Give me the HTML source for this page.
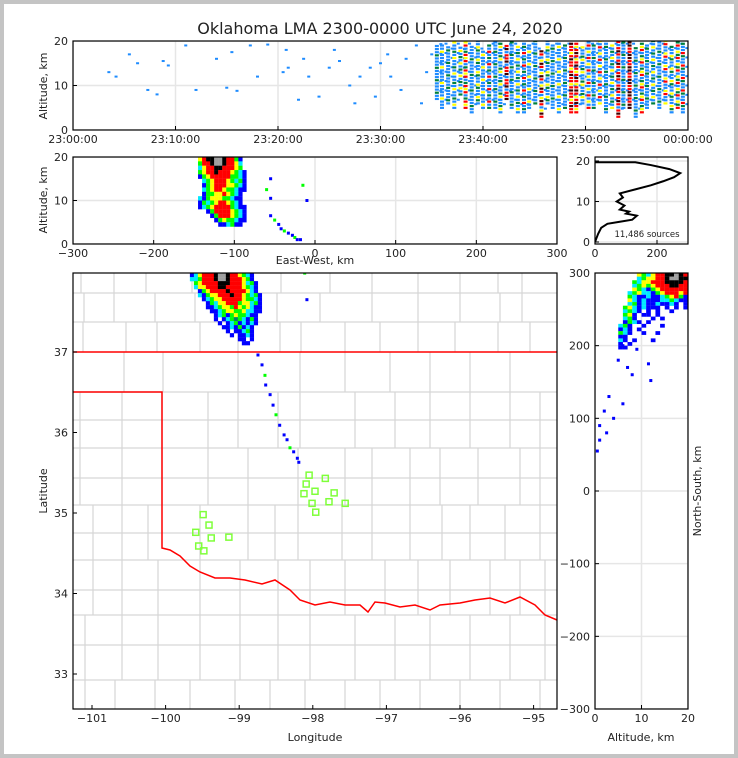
<!DOCTYPE html>
<html><head><meta charset="utf-8"><style>
html,body{margin:0;padding:0;background:#fff}
svg{display:block}
text{font-family:"DejaVu Sans","Liberation Sans",sans-serif;fill:#222}
</style></head><body>
<svg id="fig" width="738" height="758" viewBox="0 0 738 758" xmlns="http://www.w3.org/2000/svg">
<rect x="0" y="0" width="738" height="758" fill="#c4c4c4"/>
<rect x="4" y="4" width="730" height="750" fill="#fff"/>
<text x="380" y="34" font-size="16" text-anchor="middle">Oklahoma LMA 2300-0000 UTC June 24, 2020</text>
<defs>
<clipPath id="cT"><rect x="73" y="41" width="615" height="89"/></clipPath>
<clipPath id="cE"><rect x="73" y="157" width="484" height="87"/></clipPath>
<clipPath id="cH"><rect x="595" y="157" width="93" height="87"/></clipPath>
<clipPath id="cM"><rect x="73" y="273" width="484" height="436"/></clipPath>
<clipPath id="cN"><rect x="595" y="273" width="93" height="436"/></clipPath>
</defs>
<g id="gT" clip-path="url(#cT)"></g>
<g id="gE" clip-path="url(#cE)"></g>
<g id="gH" clip-path="url(#cH)"></g>
<g id="gM" clip-path="url(#cM)"></g>
<g id="gN" clip-path="url(#cN)"></g>
<g id="gA"></g>
</svg>
<script>
// ---------- DATA ----------
const timeTicks = [0,10,20,30,40,50,60];
const timeTickLabels = ["23:00:00","23:10:00","23:20:00","23:30:00","23:40:00","23:50:00","00:00:00"];
const altTicks = [0,10,20];
const ewTicks = [-300,-200,-100,0,100,200,300];
const lonTicks = [-101,-100,-99,-98,-97,-96,-95];
const latTicks = [33,34,35,36,37];
const nsTicks = [-300,-200,-100,0,100,200,300];
const histTicks = [0,200];

const sparseT = [3.5,4.2,5.5,6.3,7.3,8.8,8.2,9.3,11,12,14,15,15.5,16,17.3,18,19,20.5,20.8,21,22,22.5,23,24,25,25.5,26,27,27.5,28,29,29.5,30,30.7,31,32,32.5,33.5,34,34.5,35];
const sparseA = [13,12,17,15,9,15.5,8,14.5,19,9,16,9.5,17.5,8.8,19,12,19.2,13,18,14,6.8,16,12,7.5,14,18,15.5,10,6,12,14,7.5,15,17,12,9,16,19,6,13,17];
const streakT = [35.5,36.0,36.6,37.2,37.8,38.3,38.9,39.5,40.0,40.6,41.2,41.7,42.3,42.8,43.4,44.0,44.5,45.1,45.7,46.3,46.8,47.4,48.0,48.6,49.1,49.7,50.3,50.8,51.4,52.0,52.6,53.2,53.7,54.3,54.9,55.5,56.0,56.6,57.2,57.8,58.4,59.0,59.5];
const streakLo = [7,5,6,5,8,5,4,6,5,5,5,4,7,5,4,4,5,6,3,6,5,4,5,4,4,6,5,5,6,4,5,3,5,5,3,4,5,6,5,6,4,5,4];
const streakHi = [19,19,19,20,19,20,19,20,18,19,20,20,19,20,19,20,19,20,18,20,19,20,19,20,20,19,20,19,20,20,19,20,20,20,19,20,19,20,20,20,19,20,20];
const streakC = ["bbgb","bcbyb","bgbb","bybgb","gbyb","ryrgb","bbgbc","bgyb","bybb","gbrb","bbgb","bygb","krrb","bgbb","bybg","bgbr","bbyb","gbbb","rkyb","bgyb","bbbg","bybb","gbbb","rrkry","ryrk","bbyg","rbyb","gbbb","ybrb","bgbb","ybgb","rkrb","bgbb","kkrr","bbgb","rygb","bbbg","gbyb","bbgb","ybbr","bgyb","rgyb","bbgr"];

const ewRowAlt = [20,19,18,17,16,15,14,13,12,11,10,9,8,7,6,5];
const ewRowC = ["yrkkwwkrrgb","grrkwwkrryc","cyrrkkrrryg","gyrrkrrrygcb","bgyrrrrrggcb",".cgyrrrygcgb",".bgyrrryygcb",".cgyrryggcbb",".bggyyrygcb","cbgyyyggcbb","bgcgyrrygcb","bcgyrrrrgcbb","..bgrrrrygcb","...bgrrrygcb","....bgyggcbb",".....bbcgbb"];
const ewX0 = -145, ewStep = 5;
const ewTailX = [-55,-50,-45,-42,-38,-33,-28,-25,-22,-18,-15,-10,-55,-60,-55];
const ewTailA = [6.5,5.5,4.5,3.5,3,2.5,2,1.5,1,1,13.5,10,10.5,12.5,15];

const histCount = [0,5,10,20,40,80,120,135,100,110,80,95,70,90,80,130,180,220,255,275,240,180,130];
const histAlt = [0,1,2,3.5,4.5,5,5.5,6.5,7,7.5,8,9,10,11,12,13,14,15,16,17,18,19,19.7];

const mapRowC = ["bcyrrrkwwkrrygcb","ccgrrrkwwkrrrygb",".gyrrrrkkkrrrycgb",".cyyrrrkkrrrrygcb","..bgyrrrrkrrrrycb","..cbgyyrrrkrrygcgb","...bcgyyrrrrryggcb","....bgcyyrrrgyycgb","....bbcgyygrygycbb",".....bbcgyyggyccbb","......bcgbgyggcbb","......b.bcgdgcbgb",".......b.bcgbcbcb","........bbcbgbcb",".........b.bbcgb","..........b.bbcb","............bb.b",".............bb"];
const mapLon0 = -99.67, mapLat0 = 37.98, mapLonStep = 0.0543, mapLatStep = 0.0497;
const tailLon = [-98.745,-98.69,-98.65,-98.64,-98.58,-98.54,-98.50,-98.45,-98.39,-98.35,-98.31,-98.26,-98.21,-98.19,-98.11,-98.08];
const tailLat = [36.963,36.84,36.71,36.59,36.47,36.34,36.22,36.09,35.97,35.91,35.81,35.76,35.68,35.63,37.98,37.65];
const stationLon = [-98.05,-97.83,-98.09,-97.97,-98.12,-97.71,-98.01,-97.78,-97.56,-97.96,-99.49,-99.41,-99.59,-99.38,-99.14,-99.55,-99.48];
const stationLat = [35.47,35.43,35.36,35.27,35.24,35.25,35.12,35.14,35.12,35.01,34.98,34.85,34.76,34.69,34.70,34.59,34.53];

const nsRowY = [300,295,290,285,280,275,270,265,260,255,250,245,240,235,230,225,220,215,210,205,200];
const nsRowC = ["....ygcyrrkkwkr","....cgyyrrkwwkk","...gcyyrrrkkkkr","...cgygyrrrkkrr","...ygcbgyrrrrrr","..cgyccbgyrrryr","..gcbbcbbcgyrgb","..ycbcbbbccgcbb","..cgbcbbcbbcb.b",".gycbcbbb.b.b.b",".cgcb.b.b..b...",".gyb.bb.b......",".cgb...b.b.....",".bgcb.b........","cgb..b...b.....","bcb.b..........","gcb..b..b......","bb.............","cb.b...b.......","b.b............","bb............."];
const nsA0 = 5;
const nsPtA = [7,8,11.5,9,12,3,2,1,0.5,1,4,6,2.5,5,6];
const nsPtY = [170,160,175,195,152,130,110,90,55,70,100,120,80,180,200];

// ---------- SCALES ----------
const tx = m => 73 + m*(615/60), ty = a => 130 - a*(89/20);
const ex = k => 73 + (k+300)*(484/600), ey = a => 244 - a*(87/20);
const hx = c => 595 + c*0.31, hy = a => 242 - a*4.05;
const mx = lon => 92 + (lon+101)*73.6, my = lat => 352 - (lat-37)*80.5;
const nx = a => 595 + a*4.65, ny = k => 491 - k*0.7267;

const NS = "http://www.w3.org/2000/svg";
function mk(tag, attrs, parent){const e=document.createElementNS(NS,tag);for(const k in attrs)e.setAttribute(k,attrs[k]);parent.appendChild(e);return e;}
const COL = {b:"#0000ff",c:"#00e8ff",g:"#00ff00",d:"#00806a",y:"#ffff00",r:"#ff0000",m:"#ff1493",k:"#000000",w:"#a0a0a0"};
const TCOL = {b:"#1e8cff",c:"#1e8cff",g:"#00803c",y:"#ffff00",r:"#ff0000",k:"#400000",m:"#ff3080"};
const gT=document.getElementById("gT"),gE=document.getElementById("gE"),gH=document.getElementById("gH"),gM=document.getElementById("gM"),gN=document.getElementById("gN"),gA=document.getElementById("gA");

function grid(g, x0,x1,y0,y1, xs, ys){
  xs.forEach(x=>{const l=mk("line",{x1:x,x2:x,y1:y0,y2:y1,stroke:"#e6e6e6","stroke-width":1.5},g);
  
  });
  ys.forEach(y=>{const l=mk("line",{x1:x0,x2:x1,y1:y,y2:y,stroke:"#e6e6e6","stroke-width":1.5},g);
  
  });
}

// ----- time panel -----
grid(gT,73,688,41,130,timeTicks.map(tx),altTicks.map(ty));
for(let i=0;i<sparseT.length;i++){
  const r=mk("rect",{x:tx(sparseT[i])-1.5,y:ty(sparseA[i])-1,width:3,height:2,fill:TCOL.b},gT);
  
  
}
for(let i=0;i<streakT.length;i++){
  const pat=streakC[i];let n=0;
  for(let a=streakLo[i];a<=streakHi[i];a+=0.7){
    const c=pat[n%pat.length];n++;
    const r=mk("rect",{x:tx(streakT[i])-2,y:ty(a)-1,width:4,height:2.2,fill:TCOL[c]},gT);
    
    
    if(n%3===0){const r2=mk("rect",{x:tx(streakT[i])+2.5,y:ty(a+0.4)-1,width:3,height:2,fill:TCOL.b},gT);
      
      }
  }
}

// ----- EW panel -----
grid(gE,73,557,157,244,ewTicks.map(ex),altTicks.map(ey));
ewRowAlt.forEach((a,i)=>{[...ewRowC[i]].forEach((c,j)=>{if(c==='.')return;
  const r=mk("rect",{x:ex(ewX0+j*ewStep),y:ey(a),width:4.2,height:4.5,fill:COL[c]},gE);
  
  });});
for(let i=0;i<ewTailX.length;i++){
  const r=mk("rect",{x:ex(ewTailX[i])-1.5,y:ey(ewTailA[i])-1.5,width:3,height:3,fill:i%3===1?COL.g:COL.b},gE);
  
  
}

// ----- histogram -----
grid(gH,595,688,157,244,histTicks.map(hx),altTicks.map(hy));
const hp=mk("polyline",{points:histCount.map((c,i)=>hx(c)+","+hy(histAlt[i])).join(" ")+" "+hx(0)+","+hy(19.7),fill:"none",stroke:"#000000","stroke-width":2,style:"stroke:#000000;fill:none"},gH);


const st=mk("text",{x:647,y:237,"font-size":8.5,"text-anchor":"middle"},gA);st.textContent="11,486 sources";



// ----- map -----
const countyH=[293,322,392,420,448,478,505,533,560,590,615,645,680];
const countyBands=[[273,293,[81,114,146,192,238,281,330,372,418,460,498,522]],[293,322,[84,114,155,195,238,277,320,372,418,460,500,522]],[322,352,[83,126,157,200,238,280,301,345,380,418,455,498,530]],[352,392,[124,163,238,300,345,390,430,470,510]],[392,448,[80,122,162,208,238,278,300,355,395,430,470,510,540]],[448,505,[80,122,162,208,248,298,345,372,410,440,478,520,540]],[505,560,[93,122,148,200,248,275,298,342,372,410,442,470,505,540]],[560,615,[93,122,158,200,240,278,310,345,385,418,450,490,520,545]],[615,680,[85,122,158,200,240,278,310,355,395,430,470,510,545]],[680,709,[85,115,155,190,235,270,305,345,380,420,460,500,540]]];
countyH.forEach(y=>{const l=mk("line",{x1:73,x2:557,y1:y,y2:y,stroke:"#d6d6d6","stroke-width":1.2},gM);
  
  });
countyBands.forEach(b=>b[2].forEach(x=>{const l=mk("line",{x1:x,x2:x,y1:b[0],y2:b[1],stroke:"#d6d6d6","stroke-width":1.2},gM);
  
  }));
const border=mk("path",{d:"M73,352H557M73,392H162V548L170,550 180,556 190,566 200,572 215,578 230,578 245,580 262,584 275,580 290,590 300,600 315,605 330,602 345,605 360,605 368,612 375,602 385,603 400,607 415,605 430,610 440,605 460,603 475,600 490,598 505,603 520,597 535,605 545,615 557,620",fill:"none",stroke:"#ff0000","stroke-width":1.5},gM);


mapRowC.forEach((row,i)=>{[...row].forEach((c,j)=>{if(c==='.')return;
  const r=mk("rect",{x:mx(mapLon0+j*mapLonStep),y:my(mapLat0-i*mapLatStep),width:4.2,height:4.2,fill:COL[c]},gM);
  
  });});
for(let i=0;i<tailLon.length;i++){
  const r=mk("rect",{x:mx(tailLon[i])-1.5,y:my(tailLat[i])-1.5,width:3,height:3,fill:i%4===2?COL.g:COL.b},gM);
  
  
}
for(let i=0;i<stationLon.length;i++){
  const r=mk("rect",{x:mx(stationLon[i])-3,y:my(stationLat[i])-3,width:6,height:6,fill:"none",stroke:"#7fff3a","stroke-width":1.5},gM);
  
  
}

// ----- NS panel -----
grid(gN,595,688,273,709,altTicks.map(nx),nsTicks.map(ny));
nsRowY.forEach((k,i)=>{[...nsRowC[i]].forEach((c,j)=>{if(c==='.')return;
  const r=mk("rect",{x:nx(nsA0+j),y:ny(k),width:4.7,height:3.8,fill:COL[c]},gN);
  
  });});
for(let i=0;i<nsPtA.length;i++){
  const r=mk("rect",{x:nx(nsPtA[i])-1.5,y:ny(nsPtY[i])-1.5,width:3,height:3,fill:COL.b},gN);
  
  
}

// ----- axes -----
function frame(x,y,w,h,name){const r=mk("rect",{x:x,y:y,width:w,height:h,fill:"none",stroke:"#000","stroke-width":1.2},gA);
  
  }
function lab(x,y,s,anchor,size,name,rot){const t=mk("text",{x:x,y:y,"font-size":size||11,"text-anchor":anchor||"middle"},gA);
  if(rot)t.setAttribute("transform","rotate(-90 "+x+" "+y+")");t.textContent=s;
  
  return t;}
function tk(x1,y1,x2,y2){const l=mk("line",{x1:x1,y1:y1,x2:x2,y2:y2,stroke:"#000","stroke-width":1},gA);
  
  }
frame(73,41,615,89,"time-axes-frame");
frame(73,157,484,87,"ew-axes-frame");
frame(595,157,93,87,"hist-axes-frame");
frame(73,273,484,436,"map-axes-frame");
frame(595,273,93,436,"ns-axes-frame");
timeTicks.forEach((m,i)=>{tk(tx(m),130,tx(m),126);lab(tx(m),143,timeTickLabels[i],"middle",11,"x-tick-label");});
altTicks.forEach(a=>{tk(73,ty(a),77,ty(a));lab(68,ty(a)+4,String(a),"end",11,"y-tick-label");
  tk(73,ey(a),77,ey(a));lab(68,ey(a)+4,String(a),"end",11,"y-tick-label");
  tk(595,hy(a),599,hy(a));lab(590,hy(a)+4,String(a),"end",11,"y-tick-label");
  tk(nx(a),709,nx(a),705);lab(nx(a),722,String(a),"middle",11,"x-tick-label");});
ewTicks.forEach(k=>{tk(ex(k),244,ex(k),240);lab(ex(k),257,String(k).replace('-','\u2212'),"middle",11,"x-tick-label");});
histTicks.forEach(c=>{tk(hx(c),244,hx(c),240);lab(hx(c),257,String(c),"middle",11,"x-tick-label");});
lonTicks.forEach(l=>{tk(mx(l),709,mx(l),705);lab(mx(l),722,String(l).replace('-','\u2212'),"middle",11,"x-tick-label");});
latTicks.forEach(l=>{tk(73,my(l),77,my(l));lab(68,my(l)+4,String(l),"end",11,"y-tick-label");});
nsTicks.forEach(k=>{tk(595,ny(k),599,ny(k));lab(590,ny(k)+4,String(k).replace('-','\u2212'),"end",11,"y-tick-label");});
lab(47,86,"Altitude, km","middle",11,"time-y-axis-title",true);
lab(47,200,"Altitude, km","middle",11,"ew-y-axis-title",true);
lab(315,264,"East-West, km","middle",11,"ew-x-axis-title");
lab(47,491,"Latitude","middle",11,"map-y-axis-title",true);
lab(315,741,"Longitude","middle",11,"map-x-axis-title");
lab(641,741,"Altitude, km","middle",11,"ns-x-axis-title");
lab(701,491,"North-South, km","middle",11,"ns-y-axis-title",true);
</script>
</body></html>
